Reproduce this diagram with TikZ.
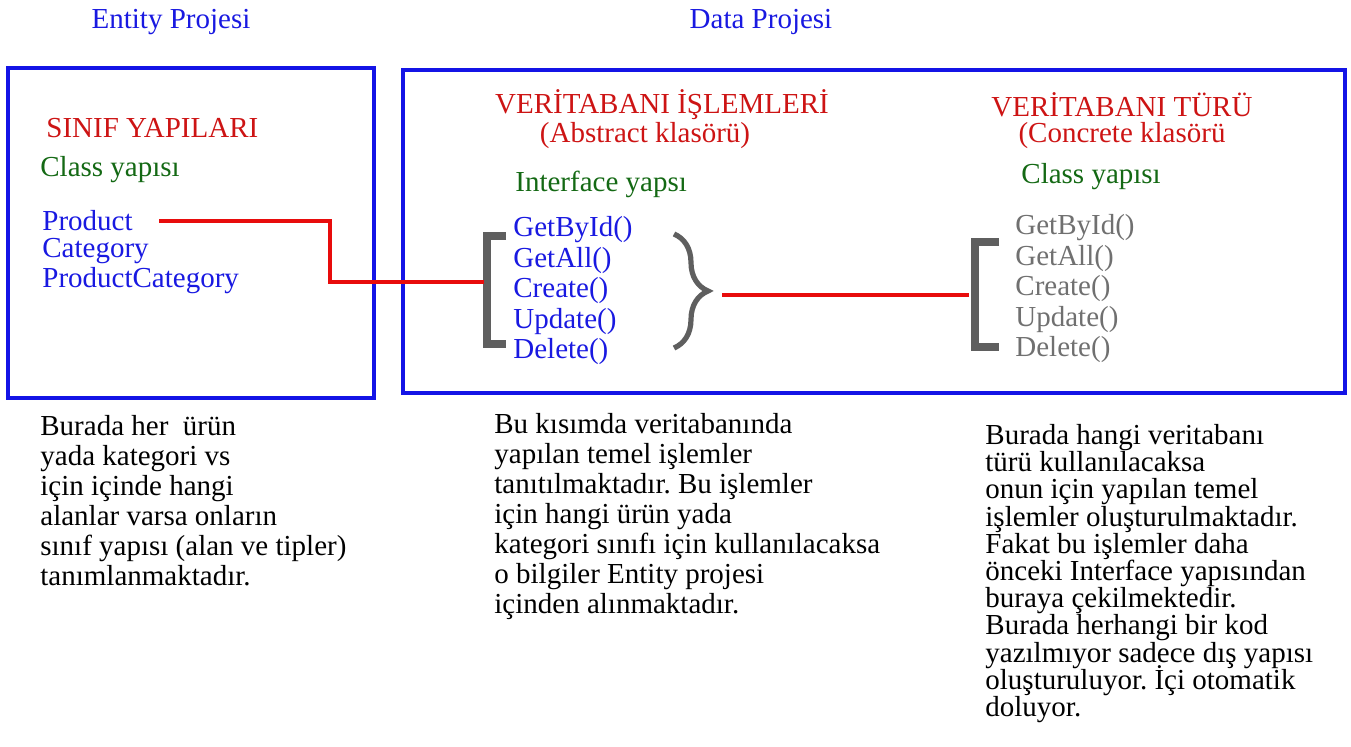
\documentclass[tikz,border=0pt]{standalone}
\usepackage{fontspec}
\setmainfont{Liberation Serif}
\usepackage{tikz}
\usetikzlibrary{decorations.pathreplacing}
\usepackage{xcolor}
\frenchspacing
\newcommand\tightlines{\lineskiplimit=-20pt\relax}

\definecolor{boxblue}{RGB}{20,20,230}
\definecolor{txtblue}{RGB}{25,25,225}
\definecolor{headred}{RGB}{205,20,20}
\definecolor{linkred}{RGB}{232,12,12}
\definecolor{notegreen}{RGB}{20,105,20}
\definecolor{brakgray}{RGB}{95,95,95}
\definecolor{methgray}{RGB}{112,112,112}

\tikzset{
  lbl/.style={inner sep=0pt,font=\fontsize{14.5}{15}\selectfont},
  frame/.style={draw=boxblue,line width=1.6pt,inner sep=0pt},
  link/.style={draw=linkred,line width=1.6pt},
  brak/.style={draw=brakgray,line width=3.6pt},
  expl/.style={lbl,align=left,anchor=north west,text=black},
}

\begin{document}
\begin{tikzpicture}[x=0.5pt,y=-0.5pt]
\useasboundingbox (0,0) rectangle (1351,747);

% project titles
\node[lbl,text=txtblue] (entityTitle) at (171,22) {Entity Projesi};
\node[lbl,text=txtblue] (dataTitle) at (761,22) {Data Projesi};

% the two project frames
\node[frame,minimum width=183pt,minimum height=165pt] (entityBox) at (191,233) {};
\node[frame,minimum width=471pt,minimum height=161.5pt] (dataBox) at (874,231.5) {};

% entity side
\node[lbl,text=headred,anchor=west] (sinif) at (46,128) {SINIF YAPILARI};
\node[lbl,text=notegreen,anchor=west] (classA) at (40,170) {Class yapısı};
\node[lbl,text=txtblue,anchor=west] (product) at (42,221) {Product};
\node[lbl,text=txtblue,anchor=west] (category) at (42,251) {Category};
\node[lbl,text=txtblue,anchor=west] (prodcat) at (42,281) {ProductCategory};

% abstract operations
\node[lbl,text=headred] (islemTitle) at (662,105) {VERİTABANI İŞLEMLERİ};
\node[lbl,text=headred] (abstractNote) at (645,136) {(Abstract klasörü)};
\node[lbl,text=notegreen,anchor=west] (ifaceNote) at (515,184) {Interface yapsı};
\node[lbl,text=txtblue,anchor=west] (absGet) at (513,230) {GetById()};
\node[lbl,text=txtblue,anchor=west] (absAll) at (513,261) {GetAll()};
\node[lbl,text=txtblue,anchor=west] (absCreate) at (513,291) {Create()};
\node[lbl,text=txtblue,anchor=west] (absUpdate) at (513,322) {Update()};
\node[lbl,text=txtblue,anchor=west] (absDelete) at (513,352) {Delete()};
\draw[brak] (506,236) -- (487,236) -- (487,344) -- (506,344);
\draw[brak,line width=2.6pt,decorate,decoration={brace,amplitude=17pt}] (674,234) -- (674,348);

% concrete operations
\node[lbl,text=headred] (turTitle) at (1122,105) {VERİTABANI TÜRÜ};
\node[lbl,text=headred] (concreteNote) at (1122,136) {(Concrete klasörü};
\node[lbl,text=notegreen,anchor=west] (classB) at (1021,177) {Class yapısı};
\node[lbl,text=methgray,anchor=west] (conGet) at (1015,228) {GetById()};
\node[lbl,text=methgray,anchor=west] (conAll) at (1015,259) {GetAll()};
\node[lbl,text=methgray,anchor=west] (conCreate) at (1015,289) {Create()};
\node[lbl,text=methgray,anchor=west] (conUpdate) at (1015,320) {Update()};
\node[lbl,text=methgray,anchor=west] (conDelete) at (1015,350) {Delete()};
\draw[brak] (999,242) -- (975,242) -- (975,347) -- (999,347);

% red links
\coordinate (lbrak) at (484,282);
\coordinate (knee) at (330,282);
\coordinate (braceTip) at (722,295);
\coordinate (rbrak) at (969,295);
\draw[link] ([xshift=13pt]product.east) -| (knee) -- (lbrak);
\draw[link] (braceTip) -- (rbrak);

% explanations
\node[expl] (entityText) at (40,415) {Burada her~ ürün\\yada kategori vs\\için içinde hangi\\alanlar varsa onların\\sınıf yapısı (alan ve tipler)\\tanımlanmaktadır.};
\node[expl] (abstractText) at (494,413) {Bu kısımda veritabanında\\yapılan temel işlemler\\tanıtılmaktadır. Bu işlemler\\için hangi ürün yada\\kategori sınıfı için kullanılacaksa\\o bilgiler Entity projesi\\içinden alınmaktadır.};
\node[expl,font=\fontsize{14.5}{13.6}\selectfont\tightlines] (concreteText) at (985,424) {Burada hangi veritabanı\\türü kullanılacaksa\\onun için yapılan temel\\işlemler oluşturulmaktadır.\\Fakat bu işlemler daha\\önceki Interface yapısından\\buraya çekilmektedir.\\Burada herhangi bir kod\\yazılmıyor sadece dış yapısı\\oluşturuluyor. İçi otomatik\\doluyor.};
\end{tikzpicture}
\end{document}
